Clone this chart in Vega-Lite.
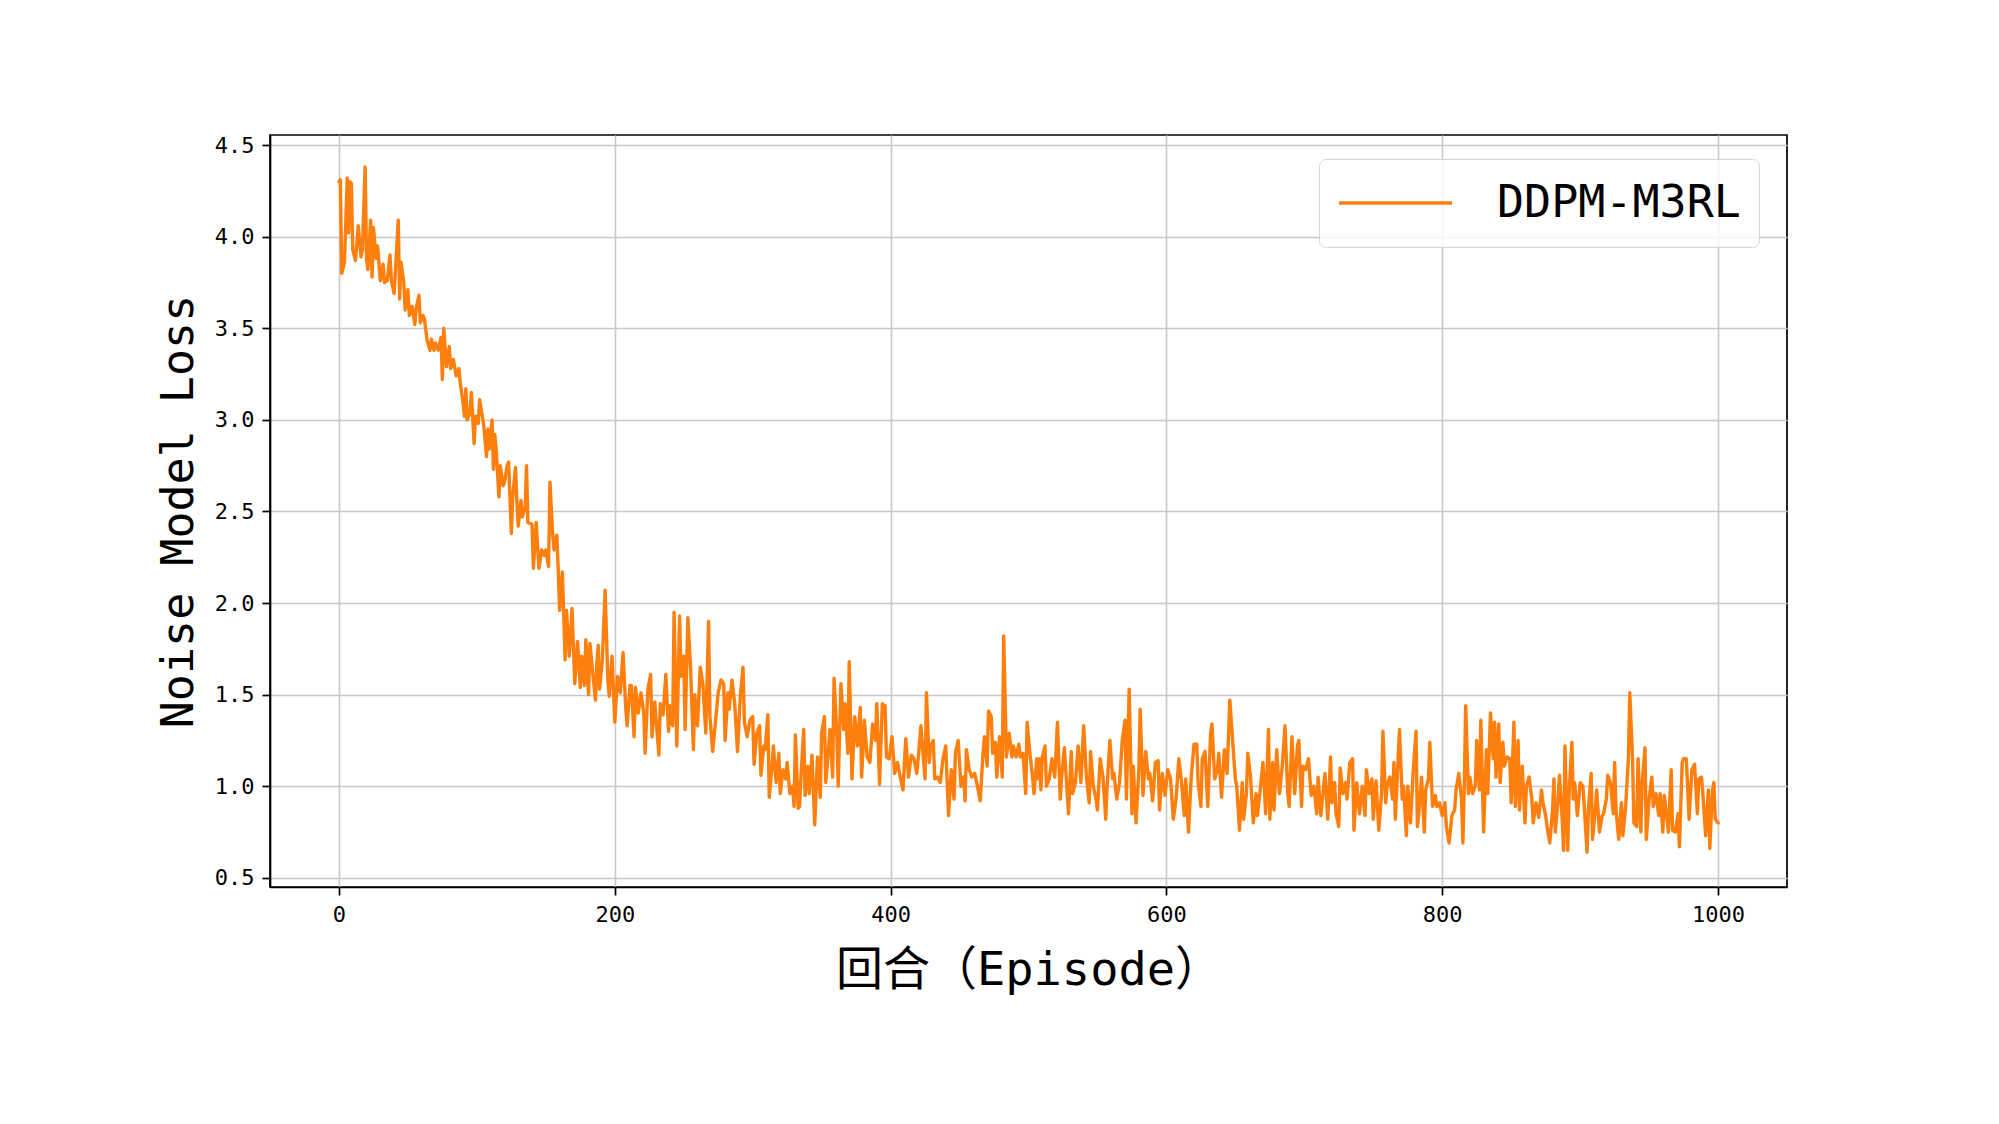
{
"$schema": "https://vega.github.io/schema/vega-lite/v6.json",
"width": 1517, "height": 752,
"autosize": {"type": "none"},
"padding": {"left": 270, "top": 135, "right": 212, "bottom": 237},
"background": "white",
"config": {"view": {"stroke": "black", "strokeWidth": 1.7}},
"data": {"values": [
{"episode":0,"loss":4.30},{"episode":1,"loss":4.31},{"episode":2,"loss":3.80},{"episode":4,"loss":3.86},{"episode":6,"loss":4.32},{"episode":7,"loss":4.02},{"episode":8,"loss":4.30},{"episode":9,"loss":4.29},{"episode":10,"loss":3.93},{"episode":12,"loss":3.87},{"episode":14,"loss":4.06},{"episode":16,"loss":3.89},{"episode":17,"loss":3.93},{"episode":19,"loss":4.38},{"episode":20,"loss":3.88},{"episode":21,"loss":3.82},{"episode":23,"loss":4.09},{"episode":24,"loss":3.78},{"episode":25,"loss":4.05},{"episode":27,"loss":3.88},{"episode":28,"loss":3.95},{"episode":30,"loss":3.76},{"episode":32,"loss":3.85},{"episode":33,"loss":3.75},{"episode":35,"loss":3.76},{"episode":37,"loss":3.90},{"episode":38,"loss":3.76},{"episode":40,"loss":3.69},{"episode":41,"loss":3.82},{"episode":43,"loss":4.09},{"episode":44,"loss":3.66},{"episode":45,"loss":3.86},{"episode":47,"loss":3.75},{"episode":48,"loss":3.60},{"episode":50,"loss":3.71},{"episode":51,"loss":3.57},{"episode":53,"loss":3.62},{"episode":55,"loss":3.52},{"episode":56,"loss":3.61},{"episode":58,"loss":3.68},{"episode":59,"loss":3.53},{"episode":61,"loss":3.57},{"episode":62,"loss":3.55},{"episode":64,"loss":3.43},{"episode":66,"loss":3.38},{"episode":67,"loss":3.44},{"episode":69,"loss":3.38},{"episode":70,"loss":3.42},{"episode":72,"loss":3.38},{"episode":74,"loss":3.45},{"episode":75,"loss":3.22},{"episode":76,"loss":3.50},{"episode":78,"loss":3.29},{"episode":80,"loss":3.40},{"episode":81,"loss":3.28},{"episode":83,"loss":3.33},{"episode":85,"loss":3.24},{"episode":87,"loss":3.28},{"episode":88,"loss":3.20},{"episode":90,"loss":3.09},{"episode":91,"loss":3.02},{"episode":92,"loss":3.17},{"episode":93,"loss":3.00},{"episode":95,"loss":3.04},{"episode":96,"loss":3.15},{"episode":98,"loss":2.87},{"episode":99,"loss":3.02},{"episode":101,"loss":2.98},{"episode":102,"loss":3.11},{"episode":104,"loss":3.02},{"episode":105,"loss":2.97},{"episode":107,"loss":2.80},{"episode":108,"loss":2.95},{"episode":109,"loss":2.84},{"episode":111,"loss":3.00},{"episode":112,"loss":2.73},{"episode":113,"loss":2.92},{"episode":114,"loss":2.84},{"episode":116,"loss":2.58},{"episode":117,"loss":2.75},{"episode":119,"loss":2.64},{"episode":120,"loss":2.66},{"episode":122,"loss":2.75},{"episode":123,"loss":2.77},{"episode":125,"loss":2.38},{"episode":126,"loss":2.58},{"episode":128,"loss":2.74},{"episode":129,"loss":2.56},{"episode":130,"loss":2.42},{"episode":132,"loss":2.56},{"episode":133,"loss":2.47},{"episode":135,"loss":2.52},{"episode":136,"loss":2.75},{"episode":137,"loss":2.44},{"episode":140,"loss":2.43},{"episode":141,"loss":2.19},{"episode":143,"loss":2.44},{"episode":145,"loss":2.19},{"episode":147,"loss":2.29},{"episode":149,"loss":2.26},{"episode":150,"loss":2.29},{"episode":152,"loss":2.20},{"episode":153,"loss":2.66},{"episode":155,"loss":2.37},{"episode":156,"loss":2.29},{"episode":158,"loss":2.37},{"episode":159,"loss":2.18},
{"episode":160,"loss":1.96},{"episode":162,"loss":2.17},{"episode":164,"loss":1.69},{"episode":165,"loss":1.96},{"episode":167,"loss":1.71},{"episode":169,"loss":1.97},{"episode":171,"loss":1.56},{"episode":173,"loss":1.79},{"episode":175,"loss":1.54},{"episode":176,"loss":1.71},{"episode":178,"loss":1.55},{"episode":179,"loss":1.80},{"episode":181,"loss":1.50},{"episode":182,"loss":1.78},{"episode":184,"loss":1.62},{"episode":186,"loss":1.47},{"episode":187,"loss":1.67},{"episode":188,"loss":1.77},{"episode":189,"loss":1.53},{"episode":191,"loss":1.69},{"episode":193,"loss":2.07},{"episode":195,"loss":1.58},{"episode":196,"loss":1.49},{"episode":198,"loss":1.71},{"episode":200,"loss":1.35},{"episode":202,"loss":1.60},{"episode":204,"loss":1.51},{"episode":206,"loss":1.73},{"episode":208,"loss":1.42},{"episode":209,"loss":1.33},{"episode":211,"loss":1.55},{"episode":212,"loss":1.55},{"episode":214,"loss":1.27},{"episode":215,"loss":1.54},{"episode":217,"loss":1.40},{"episode":219,"loss":1.51},{"episode":221,"loss":1.40},{"episode":222,"loss":1.18},{"episode":224,"loss":1.53},{"episode":226,"loss":1.61},{"episode":227,"loss":1.27},{"episode":229,"loss":1.46},{"episode":230,"loss":1.36},{"episode":232,"loss":1.17},{"episode":233,"loss":1.45},{"episode":235,"loss":1.39},{"episode":237,"loss":1.61},{"episode":239,"loss":1.30},{"episode":240,"loss":1.44},{"episode":242,"loss":1.33},{"episode":243,"loss":1.95},{"episode":245,"loss":1.22},{"episode":247,"loss":1.93},{"episode":248,"loss":1.60},{"episode":250,"loss":1.71},{"episode":251,"loss":1.31},{"episode":253,"loss":1.92},{"episode":255,"loss":1.64},{"episode":257,"loss":1.20},{"episode":258,"loss":1.50},{"episode":260,"loss":1.33},{"episode":262,"loss":1.65},{"episode":264,"loss":1.55},{"episode":266,"loss":1.29},{"episode":268,"loss":1.90},{"episode":269,"loss":1.38},{"episode":271,"loss":1.19},{"episode":273,"loss":1.35},{"episode":275,"loss":1.51},{"episode":277,"loss":1.58},{"episode":279,"loss":1.56},{"episode":280,"loss":1.25},{"episode":282,"loss":1.51},{"episode":283,"loss":1.42},{"episode":285,"loss":1.58},{"episode":287,"loss":1.45},{"episode":289,"loss":1.19},{"episode":291,"loss":1.49},{"episode":293,"loss":1.65},{"episode":294,"loss":1.35},{"episode":296,"loss":1.27},{"episode":298,"loss":1.36},{"episode":300,"loss":1.38},{"episode":301,"loss":1.12},{"episode":303,"loss":1.29},{"episode":305,"loss":1.33},{"episode":306,"loss":1.06},{"episode":308,"loss":1.22},{"episode":309,"loss":1.20},{"episode":311,"loss":1.39},{"episode":312,"loss":0.94},{"episode":314,"loss":1.11},{"episode":315,"loss":1.22},{"episode":317,"loss":1.02},{"episode":319,"loss":1.18},{"episode":320,"loss":0.96},{"episode":322,"loss":1.09},{"episode":324,"loss":1.04},{"episode":325,"loss":1.13},{"episode":327,"loss":0.96},{"episode":329,"loss":1.00},{"episode":330,"loss":0.89},{"episode":331,"loss":1.28},{"episode":333,"loss":0.88},
{"episode":334,"loss":0.89},{"episode":335,"loss":1.05},{"episode":337,"loss":1.31},{"episode":338,"loss":0.95},{"episode":340,"loss":1.11},{"episode":341,"loss":0.96},{"episode":343,"loss":1.17},{"episode":345,"loss":0.79},{"episode":347,"loss":1.16},{"episode":349,"loss":0.94},{"episode":350,"loss":1.29},{"episode":352,"loss":1.38},{"episode":353,"loss":1.02},{"episode":355,"loss":1.20},{"episode":356,"loss":1.31},{"episode":358,"loss":1.05},{"episode":359,"loss":1.59},{"episode":361,"loss":1.29},{"episode":362,"loss":1.00},{"episode":364,"loss":1.56},{"episode":366,"loss":1.31},{"episode":367,"loss":1.45},{"episode":369,"loss":1.18},{"episode":370,"loss":1.68},{"episode":372,"loss":1.04},{"episode":374,"loss":1.38},{"episode":376,"loss":1.22},{"episode":378,"loss":1.43},{"episode":379,"loss":1.05},{"episode":381,"loss":1.36},{"episode":383,"loss":1.16},{"episode":385,"loss":1.13},{"episode":387,"loss":1.34},{"episode":389,"loss":1.25},{"episode":390,"loss":1.45},{"episode":392,"loss":1.01},{"episode":394,"loss":1.45},{"episode":396,"loss":1.44},{"episode":397,"loss":1.16},{"episode":399,"loss":1.15},{"episode":401,"loss":1.27},{"episode":403,"loss":1.07},{"episode":405,"loss":1.13},{"episode":407,"loss":1.05},{"episode":409,"loss":0.98},{"episode":411,"loss":1.26},{"episode":413,"loss":1.05},{"episode":415,"loss":1.17},{"episode":417,"loss":1.15},{"episode":419,"loss":1.07},{"episode":420,"loss":1.15},{"episode":422,"loss":1.33},{"episode":424,"loss":1.13},{"episode":425,"loss":1.04},{"episode":426,"loss":1.51},{"episode":428,"loss":1.13},{"episode":429,"loss":1.22},{"episode":431,"loss":1.25},{"episode":432,"loss":1.04},{"episode":434,"loss":1.05},{"episode":436,"loss":1.02},{"episode":438,"loss":1.15},{"episode":440,"loss":1.22},{"episode":442,"loss":0.84},{"episode":444,"loss":1.09},{"episode":446,"loss":0.93},{"episode":447,"loss":1.18},{"episode":449,"loss":1.25},{"episode":451,"loss":1.00},{"episode":453,"loss":1.05},{"episode":454,"loss":0.92},{"episode":455,"loss":1.20},{"episode":457,"loss":1.09},{"episode":459,"loss":1.05},{"episode":461,"loss":1.07},{"episode":463,"loss":1.00},{"episode":465,"loss":0.92},{"episode":467,"loss":1.18},{"episode":468,"loss":1.27},{"episode":470,"loss":1.11},{"episode":471,"loss":1.41},{"episode":473,"loss":1.38},{"episode":474,"loss":1.18},{"episode":476,"loss":1.24},{"episode":477,"loss":1.05},{"episode":479,"loss":1.27},{"episode":481,"loss":1.05},{"episode":482,"loss":1.82},{"episode":484,"loss":1.16},{"episode":486,"loss":1.29},{"episode":488,"loss":1.16},{"episode":489,"loss":1.22},{"episode":491,"loss":1.16},{"episode":493,"loss":1.23},{"episode":494,"loss":1.16},{"episode":496,"loss":1.18},{"episode":498,"loss":0.96},{"episode":499,"loss":1.35},{"episode":501,"loss":1.18},{"episode":503,"loss":1.05},{"episode":504,"loss":0.96},{"episode":506,"loss":1.15},{"episode":507,"loss":1.04},
{"episode":508,"loss":1.15},{"episode":509,"loss":0.98},{"episode":510,"loss":1.16},{"episode":512,"loss":1.22},{"episode":513,"loss":1.00},{"episode":515,"loss":1.04},{"episode":517,"loss":1.15},{"episode":519,"loss":1.05},{"episode":521,"loss":1.35},{"episode":523,"loss":0.93},{"episode":524,"loss":1.05},{"episode":526,"loss":1.21},{"episode":529,"loss":0.85},{"episode":531,"loss":1.19},{"episode":532,"loss":0.96},{"episode":534,"loss":1.02},{"episode":536,"loss":1.22},{"episode":538,"loss":1.02},{"episode":540,"loss":1.33},{"episode":542,"loss":1.05},{"episode":544,"loss":0.91},{"episode":545,"loss":1.19},{"episode":547,"loss":1.00},{"episode":549,"loss":0.93},{"episode":550,"loss":0.87},{"episode":552,"loss":1.15},{"episode":554,"loss":1.05},{"episode":556,"loss":0.82},{"episode":557,"loss":1.00},{"episode":559,"loss":1.25},{"episode":561,"loss":1.04},{"episode":562,"loss":1.07},{"episode":564,"loss":0.93},{"episode":566,"loss":1.02},{"episode":568,"loss":1.25},{"episode":570,"loss":1.36},{"episode":571,"loss":0.93},{"episode":573,"loss":1.53},{"episode":575,"loss":0.85},{"episode":576,"loss":1.11},{"episode":578,"loss":0.80},{"episode":580,"loss":1.09},{"episode":581,"loss":1.42},{"episode":583,"loss":0.95},{"episode":585,"loss":1.19},{"episode":587,"loss":1.04},{"episode":588,"loss":1.07},{"episode":590,"loss":0.92},{"episode":592,"loss":1.13},{"episode":594,"loss":1.14},{"episode":595,"loss":0.87},{"episode":597,"loss":1.07},{"episode":599,"loss":0.95},{"episode":601,"loss":1.09},{"episode":603,"loss":1.04},{"episode":605,"loss":0.82},{"episode":607,"loss":0.93},{"episode":609,"loss":1.15},{"episode":611,"loss":1.02},{"episode":613,"loss":0.84},{"episode":614,"loss":1.04},{"episode":616,"loss":0.75},{"episode":618,"loss":1.05},{"episode":620,"loss":1.23},{"episode":622,"loss":1.23},{"episode":623,"loss":1.02},{"episode":625,"loss":0.89},{"episode":626,"loss":1.15},{"episode":628,"loss":1.19},{"episode":630,"loss":0.89},{"episode":632,"loss":1.28},{"episode":633,"loss":1.34},{"episode":635,"loss":1.04},{"episode":637,"loss":1.09},{"episode":638,"loss":1.18},{"episode":640,"loss":0.94},{"episode":642,"loss":1.20},{"episode":644,"loss":1.07},{"episode":646,"loss":1.47},{"episode":648,"loss":1.25},{"episode":650,"loss":1.04},{"episode":651,"loss":1.00},{"episode":653,"loss":0.76},{"episode":655,"loss":1.02},{"episode":656,"loss":0.82},{"episode":658,"loss":0.96},{"episode":659,"loss":1.18},{"episode":661,"loss":1.05},{"episode":663,"loss":0.80},{"episode":665,"loss":0.96},{"episode":666,"loss":0.84},{"episode":668,"loss":0.98},{"episode":670,"loss":1.13},{"episode":672,"loss":0.85},{"episode":674,"loss":1.31},{"episode":675,"loss":0.82},{"episode":677,"loss":1.13},{"episode":678,"loss":0.87},{"episode":680,"loss":1.20},
{"episode":682,"loss":0.96},{"episode":684,"loss":1.11},{"episode":686,"loss":1.33},{"episode":688,"loss":0.96},{"episode":689,"loss":0.89},{"episode":691,"loss":1.27},{"episode":693,"loss":0.96},{"episode":695,"loss":1.22},{"episode":696,"loss":1.25},{"episode":698,"loss":0.89},{"episode":699,"loss":1.11},{"episode":701,"loss":1.09},{"episode":703,"loss":1.15},{"episode":705,"loss":0.95},{"episode":707,"loss":1.00},{"episode":709,"loss":0.85},{"episode":710,"loss":1.05},{"episode":712,"loss":0.84},{"episode":714,"loss":1.00},{"episode":715,"loss":1.07},{"episode":717,"loss":0.82},{"episode":719,"loss":1.16},{"episode":720,"loss":0.91},{"episode":722,"loss":1.02},{"episode":723,"loss":0.85},{"episode":725,"loss":0.78},{"episode":726,"loss":1.10},{"episode":728,"loss":0.96},{"episode":730,"loss":1.02},{"episode":731,"loss":0.93},{"episode":733,"loss":1.13},{"episode":735,"loss":1.15},{"episode":736,"loss":0.76},{"episode":738,"loss":1.02},{"episode":740,"loss":0.85},{"episode":742,"loss":1.00},{"episode":744,"loss":0.84},{"episode":745,"loss":1.09},{"episode":747,"loss":0.96},{"episode":749,"loss":1.04},{"episode":750,"loss":0.82},{"episode":752,"loss":1.03},{"episode":754,"loss":0.76},{"episode":756,"loss":0.96},{"episode":757,"loss":1.30},{"episode":759,"loss":0.91},{"episode":760,"loss":1.00},{"episode":762,"loss":1.05},{"episode":764,"loss":0.93},{"episode":765,"loss":1.13},{"episode":766,"loss":0.82},{"episode":768,"loss":1.15},{"episode":769,"loss":1.31},{"episode":771,"loss":0.93},{"episode":772,"loss":1.00},{"episode":774,"loss":0.73},{"episode":775,"loss":1.00},{"episode":777,"loss":0.80},{"episode":779,"loss":1.09},{"episode":781,"loss":1.30},{"episode":782,"loss":0.78},{"episode":783,"loss":0.85},{"episode":785,"loss":1.05},{"episode":787,"loss":0.75},{"episode":788,"loss":0.98},{"episode":790,"loss":1.04},{"episode":791,"loss":1.24},{"episode":793,"loss":0.89},{"episode":795,"loss":0.95},{"episode":796,"loss":0.89},{"episode":798,"loss":0.91},{"episode":800,"loss":0.84},{"episode":802,"loss":0.91},{"episode":803,"loss":0.78},{"episode":805,"loss":0.69},{"episode":807,"loss":0.84},{"episode":809,"loss":0.87},{"episode":810,"loss":0.98},{"episode":812,"loss":1.07},{"episode":814,"loss":0.93},{"episode":815,"loss":0.69},{"episode":816,"loss":1.00},{"episode":817,"loss":1.44},{"episode":819,"loss":0.96},{"episode":820,"loss":1.05},{"episode":822,"loss":0.96},{"episode":824,"loss":1.00},{"episode":825,"loss":1.25},{"episode":827,"loss":0.98},{"episode":828,"loss":1.36},{"episode":830,"loss":0.75},{"episode":832,"loss":1.20},{"episode":833,"loss":0.96},{"episode":835,"loss":1.40},{"episode":837,"loss":1.15},{"episode":838,"loss":1.35},{"episode":839,"loss":1.05},{"episode":841,"loss":1.34},{"episode":842,"loss":1.02},{"episode":844,"loss":1.24},{"episode":845,"loss":1.11},{"episode":847,"loss":1.16},
{"episode":849,"loss":1.15},{"episode":850,"loss":0.91},{"episode":852,"loss":1.35},{"episode":853,"loss":0.89},{"episode":855,"loss":1.25},{"episode":856,"loss":0.87},{"episode":858,"loss":1.11},{"episode":860,"loss":0.80},{"episode":861,"loss":1.00},{"episode":863,"loss":1.05},{"episode":865,"loss":0.93},{"episode":866,"loss":0.80},{"episode":868,"loss":0.91},{"episode":870,"loss":0.83},{"episode":872,"loss":0.98},{"episode":873,"loss":0.91},{"episode":875,"loss":0.84},{"episode":876,"loss":0.78},{"episode":878,"loss":0.69},{"episode":880,"loss":0.87},{"episode":881,"loss":1.04},{"episode":882,"loss":0.75},{"episode":884,"loss":0.93},{"episode":885,"loss":1.06},{"episode":887,"loss":0.82},{"episode":888,"loss":0.65},{"episode":889,"loss":1.22},{"episode":891,"loss":0.65},{"episode":892,"loss":0.96},{"episode":894,"loss":1.24},{"episode":895,"loss":0.93},{"episode":896,"loss":1.02},{"episode":898,"loss":0.84},{"episode":900,"loss":1.02},{"episode":902,"loss":1.00},{"episode":903,"loss":0.89},{"episode":905,"loss":0.64},{"episode":906,"loss":0.87},{"episode":908,"loss":1.07},{"episode":909,"loss":0.71},{"episode":911,"loss":0.87},{"episode":912,"loss":0.98},{"episode":914,"loss":0.75},{"episode":916,"loss":0.84},{"episode":917,"loss":0.85},{"episode":919,"loss":0.93},{"episode":920,"loss":1.06},{"episode":922,"loss":1.02},{"episode":924,"loss":0.85},{"episode":925,"loss":1.13},{"episode":926,"loss":0.87},{"episode":928,"loss":0.71},{"episode":930,"loss":0.91},{"episode":931,"loss":0.73},{"episode":933,"loss":0.89},{"episode":935,"loss":1.15},{"episode":936,"loss":1.51},{"episode":938,"loss":1.15},{"episode":939,"loss":0.80},{"episode":941,"loss":0.78},{"episode":942,"loss":1.15},{"episode":944,"loss":0.75},{"episode":945,"loss":1.02},{"episode":947,"loss":1.21},{"episode":948,"loss":0.71},{"episode":950,"loss":0.93},{"episode":952,"loss":1.05},{"episode":953,"loss":0.89},{"episode":955,"loss":0.96},{"episode":957,"loss":0.84},{"episode":958,"loss":0.96},{"episode":960,"loss":0.75},{"episode":961,"loss":0.95},{"episode":963,"loss":0.82},{"episode":964,"loss":0.75},{"episode":966,"loss":1.09},{"episode":967,"loss":0.76},{"episode":969,"loss":0.75},{"episode":971,"loss":0.85},{"episode":972,"loss":0.67},{"episode":974,"loss":1.13},{"episode":975,"loss":1.15},{"episode":977,"loss":1.15},{"episode":979,"loss":0.82},{"episode":980,"loss":0.96},{"episode":981,"loss":1.09},{"episode":983,"loss":1.12},{"episode":985,"loss":0.85},{"episode":986,"loss":1.04},{"episode":988,"loss":1.05},{"episode":989,"loss":0.96},{"episode":991,"loss":0.73},{"episode":993,"loss":0.98},{"episode":994,"loss":0.66},{"episode":996,"loss":0.98},{"episode":997,"loss":1.02},{"episode":998,"loss":0.82},{"episode":1000,"loss":0.80}
]},
"mark": {"type": "line", "strokeWidth": 3.4, "strokeJoin": "round", "strokeCap": "round"},
"encoding": {
"x": {"field": "episode", "type": "quantitative",
 "scale": {"domain": [-50, 1050], "nice": false, "zero": false},
 "axis": {"title": "回合（Episode）", "values": [0, 200, 400, 600, 800, 1000], "format": "d",
  "grid": true, "gridColor": "#c8c8c8", "gridWidth": 1.6,
  "domainColor": "black", "domainWidth": 1.7, "tickColor": "black", "tickWidth": 1.7, "tickSize": 8,
  "labelFont": "DejaVu Sans Mono", "labelFontSize": 22, "labelColor": "black", "labelPadding": 9, "labelFlush": false,
  "titleFont": "'DejaVu Sans Mono', 'Noto Sans CJK SC'", "titleFontSize": 47, "titleFontWeight": "normal", "titleColor": "black",
  "titleBaseline": "alphabetic", "titleAlign": "center", "titleX": 758.5, "titleY": 97}},
"y": {"field": "loss", "type": "quantitative",
 "scale": {"domain": [0.45, 4.555], "nice": false, "zero": false},
 "axis": {"title": "Noise Model Loss", "values": [0.5, 1, 1.5, 2, 2.5, 3, 3.5, 4, 4.5], "format": ".1f",
  "grid": true, "gridColor": "#c8c8c8", "gridWidth": 1.6,
  "domainColor": "black", "domainWidth": 1.7, "tickColor": "black", "tickWidth": 1.7, "tickSize": 8,
  "labelFont": "DejaVu Sans Mono", "labelFontSize": 22, "labelColor": "black", "labelPadding": 8, "labelFlush": false,
  "titleFont": "'DejaVu Sans Mono', 'Noto Sans CJK SC'", "titleFontSize": 45, "titleFontWeight": "normal", "titleColor": "black",
  "titleAngle": 270, "titleBaseline": "alphabetic", "titleAlign": "center", "titleX": -78, "titleY": 376}},
"color": {"datum": "DDPM-M3RL", "type": "nominal",
 "scale": {"range": ["#ff7f0e"]},
 "legend": {"title": null, "orient": "none", "legendX": 1049, "legendY": 24,
  "symbolType": "stroke", "symbolSize": 12769, "symbolStrokeWidth": 3.5, "clipHeight": 52,
  "labelFont": "DejaVu Sans Mono", "labelFontSize": 45, "labelColor": "black", "labelOffset": 43, "labelLimit": 0,
  "padding": 18, "fillColor": "rgba(255,255,255,0.8)", "strokeColor": "#d5d5d5", "cornerRadius": 7}}
}
}
